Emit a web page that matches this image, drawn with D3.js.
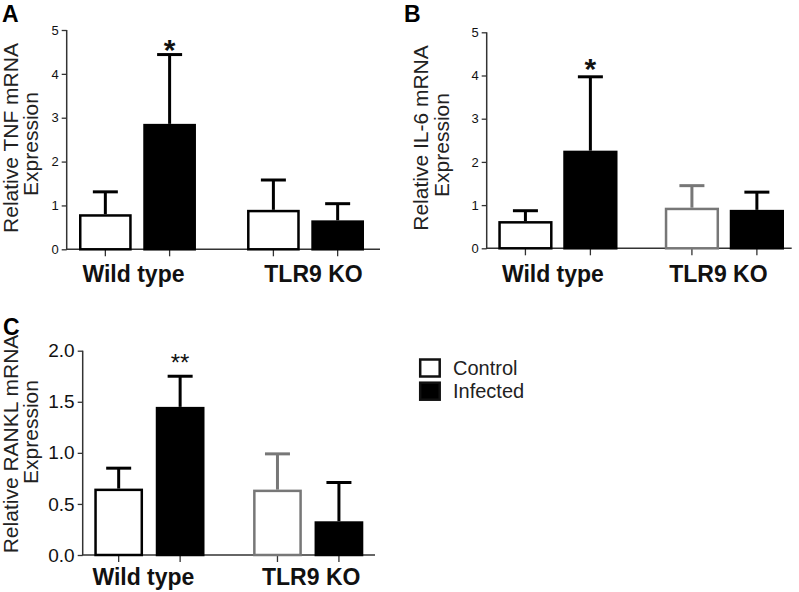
<!DOCTYPE html>
<html><head><meta charset="utf-8">
<script src="https://cdn.jsdelivr.net/npm/d3@7"></script>
<style>body{margin:0;background:#fff}svg{display:block}</style>
</head><body>
<svg id="chart" width="799" height="592"></svg>
<script>
// ---------- data ----------
const groups = ["Wild type", "TLR9 KO"];
const seriesNames = ["Control", "Infected"];

const tnfControl = [0.80, 0.90];
const tnfControlErr = [0.51, 0.68];
const tnfInfected = [2.86, 0.66];
const tnfInfectedErr = [1.58, 0.38];

const il6Control = [0.63, 0.94];
const il6ControlErr = [0.24, 0.51];
const il6Infected = [2.26, 0.89];
const il6InfectedErr = [1.71, 0.41];

const ranklControl = [0.65, 0.64];
const ranklControlErr = [0.20, 0.35];
const ranklInfected = [1.45, 0.33];
const ranklInfectedErr = [0.30, 0.38];

const ticksAB = [0, 1, 2, 3, 4, 5];
const ticksC = [0, 0.5, 1.0, 1.5, 2.0];

// ---------- drawing ----------
const svg = d3.select("#chart");
const FONT = "'Liberation Sans', Arial, Helvetica, sans-serif";

const panels = [
  { letter: "A", lx: 2, ly: 22, axisX: 66.7, xEnd: 380, yTop: 30, yBot: 249.3,
    domain: [0, 5], ticks: ticksAB, fmt: d3.format("d"), tickFont: 13,
    range: [79, 364], pInner: 0.304, subInner: 0.18,
    label: ["Relative TNF mRNA", "Expression"], labX: [18, 38], labCY: [138, 144],
    glY: 282, glOff: [-4, 8],
    control: tnfControl, controlErr: tnfControlErr, infected: tnfInfected, infectedErr: tnfInfectedErr,
    koColor: "#000", star: "*", starFont: 30, starW: "bold", starGap: 12 },
  { letter: "B", lx: 404, ly: 22, axisX: 486.7, xEnd: 791.7, yTop: 32.3, yBot: 248.3,
    domain: [0, 5], ticks: ticksAB, fmt: d3.format("d"), tickFont: 13,
    range: [498.3, 784], pInner: 0.284, subInner: 0.165,
    label: ["Relative IL-6 mRNA", "Expression"], labX: [428, 449], labCY: [138, 145],
    glY: 282, glOff: [-5, -6],
    control: il6Control, controlErr: il6ControlErr, infected: il6Infected, infectedErr: il6InfectedErr,
    koColor: "#777", star: "*", starFont: 30, starW: "bold", starGap: 15 },
  { letter: "C", lx: 3, ly: 335, axisX: 82.7, xEnd: 375, yTop: 350.7, yBot: 555,
    domain: [0, 2], ticks: ticksC, fmt: d3.format(".1f"), tickFont: 19,
    range: [94.3, 363.3], pInner: 0.306, subInner: 0.207,
    label: ["Relative RANKL mRNA", "Expression"], labX: [18, 38], labCY: [444, 432],
    glY: 585, glOff: [-6, 3],
    control: ranklControl, controlErr: ranklControlErr, infected: ranklInfected, infectedErr: ranklInfectedErr,
    koColor: "#777", star: "**", starFont: 24, starW: "normal", starGap: 19 }
];

panels.forEach(p => {
  const g = svg.append("g");
  const y = d3.scaleLinear().domain(p.domain).range([p.yBot, p.yTop]);
  const xg = d3.scaleBand().domain(groups).range(p.range).paddingInner(p.pInner).paddingOuter(0);
  const xs = d3.scaleBand().domain(seriesNames).range([0, xg.bandwidth()]).paddingInner(p.subInner).paddingOuter(0);

  // panel letter
  g.append("text").attr("x", p.lx).attr("y", p.ly)
    .attr("font-family", FONT).attr("font-weight", "bold").attr("font-size", 23)
    .attr("fill", "#000").text(p.letter);

  // y axis
  const yAxis = d3.axisLeft(y).tickValues(p.ticks).tickFormat(p.fmt).tickSize(5).tickPadding(3);
  const ya = g.append("g").attr("transform", `translate(${p.axisX},0)`).call(yAxis);
  ya.select(".domain").attr("d", `M0,${p.yTop}V${p.yBot}`).attr("stroke", "#333").attr("stroke-width", 1.5);
  ya.selectAll(".tick line").attr("stroke", "#333").attr("stroke-width", 1.3);
  ya.selectAll(".tick text").attr("font-family", FONT).attr("font-size", p.tickFont)
    .attr("fill", "#111");

  // x axis line
  g.append("line").attr("x1", p.axisX - 0.75).attr("x2", p.xEnd)
    .attr("y1", p.yBot).attr("y2", p.yBot).attr("stroke", "#333").attr("stroke-width", 1.5);

  // bar data
  const rows = [];
  groups.forEach((grp, i) => {
    rows.push({ grp, s: "Control", v: p.control[i], e: p.controlErr[i], gi: i });
    rows.push({ grp, s: "Infected", v: p.infected[i], e: p.infectedErr[i], gi: i });
  });

  // x ticks under bars
  g.selectAll(".xt").data(rows).enter().append("line")
    .attr("x1", d => xg(d.grp) + xs(d.s) + xs.bandwidth() / 2)
    .attr("x2", d => xg(d.grp) + xs(d.s) + xs.bandwidth() / 2)
    .attr("y1", p.yBot).attr("y2", p.yBot + 7)
    .attr("stroke", "#333").attr("stroke-width", 1.3);

  const col = d => (d.s === "Control" && d.gi === 1) ? p.koColor : "#000";

  // error bars
  const eb = g.selectAll(".eb").data(rows).enter().append("g");
  eb.append("line")
    .attr("x1", d => xg(d.grp) + xs(d.s) + xs.bandwidth() / 2)
    .attr("x2", d => xg(d.grp) + xs(d.s) + xs.bandwidth() / 2)
    .attr("y1", d => y(d.v)).attr("y2", d => y(d.v + d.e))
    .attr("stroke", col).attr("stroke-width", 3);
  eb.append("line")
    .attr("x1", d => xg(d.grp) + xs(d.s) + xs.bandwidth() / 2 - 12.5)
    .attr("x2", d => xg(d.grp) + xs(d.s) + xs.bandwidth() / 2 + 12.5)
    .attr("y1", d => y(d.v + d.e)).attr("y2", d => y(d.v + d.e))
    .attr("stroke", col).attr("stroke-width", 3);

  // bars
  g.selectAll(".bar").data(rows).enter().append("rect")
    .attr("x", d => xg(d.grp) + xs(d.s) + 1.25)
    .attr("width", xs.bandwidth() - 2.5)
    .attr("y", d => y(d.v) + 1.25)
    .attr("height", d => y(0) - y(d.v) - 1.25)
    .attr("fill", d => d.s === "Control" ? "#fff" : "#000")
    .attr("stroke", col).attr("stroke-width", 2.5);

  // significance mark on infected wild type bar
  const wt = rows[1];
  const cx = xg(wt.grp) + xs(wt.s) + xs.bandwidth() / 2;
  g.append("text").attr("x", cx).attr("y", y(wt.v + wt.e) - p.starGap + 0.57 * p.starFont)
    .attr("text-anchor", "middle").attr("font-family", FONT)
    .attr("font-weight", p.starW).attr("font-size", p.starFont).attr("fill", "#111")
    .text(p.star);

  // y label
  p.label.forEach((t, k) => {
    g.append("text")
      .attr("transform", `translate(${p.labX[k]},${p.labCY[k]}) rotate(-90)`)
      .attr("text-anchor", "middle").attr("font-family", FONT).attr("font-size", 21)
      .attr("fill", "#222").text(t);
  });

  // group labels
  groups.forEach((grp, i) => {
    g.append("text").attr("x", xg(grp) + xg.bandwidth() / 2 + p.glOff[i]).attr("y", p.glY)
      .attr("text-anchor", "middle").attr("font-family", FONT).attr("font-weight", "bold")
      .attr("font-size", 23).attr("fill", "#111").text(grp);
  });
});

// legend
const leg = svg.append("g");
seriesNames.forEach((s, i) => {
  leg.append("rect").attr("x", 420.2).attr("y", 359.5 + i * 23.2).attr("width", 19.5).attr("height", 17)
    .attr("fill", s === "Control" ? "#fff" : "#000").attr("stroke", "#111").attr("stroke-width", 2.5);
  leg.append("text").attr("x", 453).attr("y", 375 + i * 22.5)
    .attr("font-family", FONT).attr("font-size", 20).attr("fill", "#222").text(s);
});
</script>
</body></html>
